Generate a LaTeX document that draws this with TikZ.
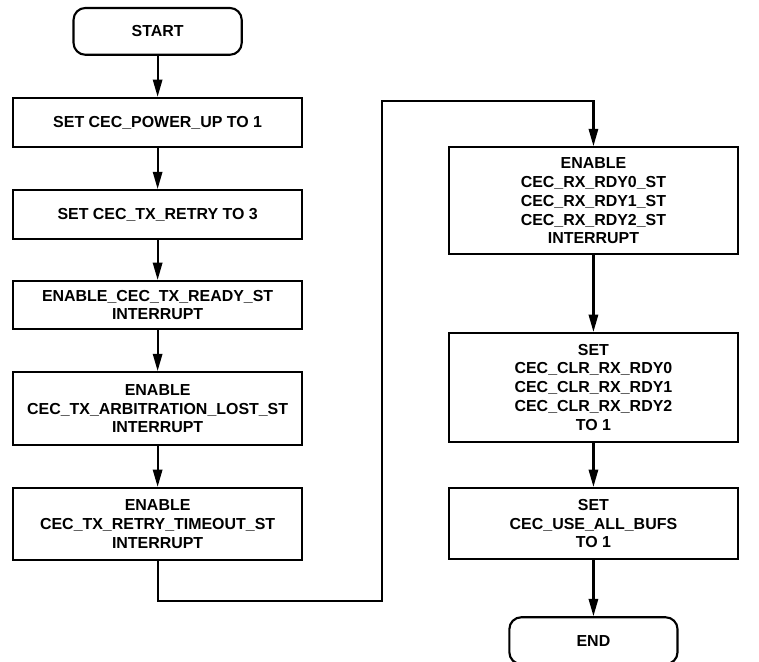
\documentclass[tikz,border=0pt]{standalone}
\usepackage{fontspec}
\setmainfont{Liberation Sans}
\usetikzlibrary{arrows.meta,positioning}
\tikzset{
  termbox/.style={draw, line width=1.6pt, rounded corners=9pt, align=center,
                  minimum width=4.45cm, minimum height=1.24cm},
  stepbox/.style={draw, line width=1.6pt, align=center, inner sep=2pt,
                  minimum width=7.65cm},
  flow/.style={line width=1.6pt, line join=miter,
               -{Triangle[length=13pt, width=7pt]}},
}

\begin{document}
\begin{tikzpicture}[font=\fontsize{12}{14.25}\selectfont\bfseries]
    \useasboundingbox (0,0) rectangle (20.08,-17.49);
    % left column
    \node[termbox] (start) at (4.17,-0.83) {START};
    \node[stepbox, minimum height=1.30cm] (pwr) at (4.17,-3.24)
         {SET CEC\_POWER\_UP TO 1};
    \node[stepbox, minimum height=1.30cm] (retry) at (4.17,-5.68)
         {SET CEC\_TX\_RETRY TO 3};
    \node[stepbox, minimum height=1.27cm] (ready) at (4.17,-8.07)
         {ENABLE\_CEC\_TX\_READY\_ST\\INTERRUPT};
    \node[stepbox, minimum height=1.93cm] (arb) at (4.17,-10.81)
         {ENABLE\\CEC\_TX\_ARBITRATION\_LOST\_ST\\INTERRUPT};
    \node[stepbox, minimum height=1.90cm] (tmo) at (4.17,-13.86)
         {ENABLE\\CEC\_TX\_RETRY\_TIMEOUT\_ST\\INTERRUPT};
    % right column
    \node[stepbox, minimum height=2.83cm] (rxrdy) at (15.70,-5.31)
         {ENABLE\\CEC\_RX\_RDY0\_ST\\CEC\_RX\_RDY1\_ST\\CEC\_RX\_RDY2\_ST\\INTERRUPT};
    \node[stepbox, minimum height=2.88cm] (clr) at (15.70,-10.25)
         {SET\\CEC\_CLR\_RX\_RDY0\\CEC\_CLR\_RX\_RDY1\\CEC\_CLR\_RX\_RDY2\\TO 1};
    \node[stepbox, minimum height=1.88cm] (bufs) at (15.70,-13.85)
         {SET\\CEC\_USE\_ALL\_BUFS\\TO 1};
    \node[termbox] (end) at (15.70,-16.95) {END};

    \draw[flow] (start) -- (pwr);
    \draw[flow] (pwr) -- (retry);
    \draw[flow] (retry) -- (ready);
    \draw[flow] (ready) -- (arb);
    \draw[flow] (arb) -- (tmo);
    \coordinate (low) at (10.11,-15.90);
    \coordinate (high) at (10.11,-2.67);
    \draw[flow] (tmo.south) |- (low) -- (high) -| (rxrdy.north);
    \draw[flow] (rxrdy) -- (clr);
    \draw[flow] (clr) -- (bufs);
    \draw[flow] (bufs) -- (end);
\end{tikzpicture}
\end{document}
